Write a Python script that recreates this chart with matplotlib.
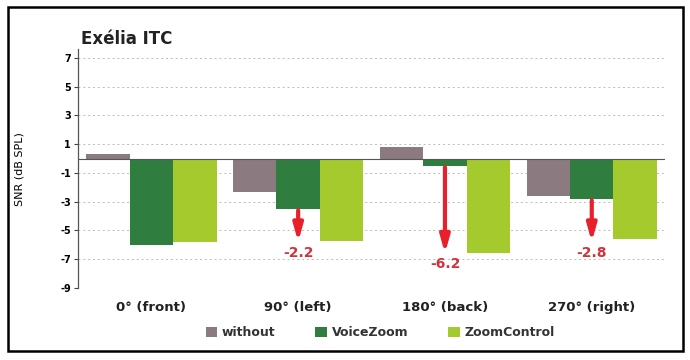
import numpy as np
import matplotlib
matplotlib.use("Agg")
import matplotlib.pyplot as plt
from matplotlib.patches import Rectangle

# ----------------------------------------------------------------------
# Data
# ----------------------------------------------------------------------
CATEGORIES = ["0° (front)", "90° (left)", "180° (back)", "270° (right)"]
SERIES = ["without", "VoiceZoom", "ZoomControl"]
WITHOUT = [0.3, -2.3, 0.8, -2.6]
VOICEZOOM = [-6.0, -3.5, -0.5, -2.8]
ZOOMCONTROL = [-5.8, -5.7, -6.6, -5.6]

# arrows: (category index, start, end, label)
ARROW_IDX = [1, 2, 3]
ARROW_START = [-3.6, -0.6, -2.9]
ARROW_END = [-5.8, -6.6, -5.8]
ARROW_LABELS = ["-2.2", "-6.2", "-2.8"]

YTICKS = [7, 5, 3, 1, -1, -3, -5, -7, -9]

COLORS = ["#8b7b80", "#2f7d3f", "#a5ca2e"]
RED = "#e8202c"


def main() -> None:
    fig = plt.figure(figsize=(6.9, 3.6), dpi=100)
    ax = fig.add_axes([0.113, 0.2, 0.851, 0.663])

    x = np.arange(len(CATEGORIES))
    w = 0.296
    for k, vals in enumerate([WITHOUT, VOICEZOOM, ZOOMCONTROL]):
        ax.bar(x + (k - 1) * w, vals, width=w, color=COLORS[k],
               label=SERIES[k], zorder=3)

    for i, y0, y1, lab in zip(ARROW_IDX, ARROW_START, ARROW_END, ARROW_LABELS):
        ax.annotate("", xy=(x[i], y1), xytext=(x[i], y0),
                    arrowprops=dict(arrowstyle="-|>,head_width=0.28,head_length=1.0",
                                    color=RED, lw=3.0, shrinkA=0, shrinkB=0),
                    zorder=5)
        ax.text(x[i], y1 - 0.25, lab, color="#d2323a", ha="center", va="top",
                fontsize=10, fontweight="bold", zorder=5)

    ax.axhline(0, color="#555555", lw=0.8, zorder=4)
    ax.set_ylim(-9, 7.6)
    ax.set_xlim(-0.5, 3.5)
    ax.set_yticks(YTICKS)
    ax.set_yticklabels([str(v) for v in YTICKS], fontsize=7, fontweight="bold")
    ax.set_xticks(x)
    ax.set_xticklabels(CATEGORIES, fontsize=9.5, fontweight="bold", color="#222222")
    ax.tick_params(axis="x", length=0, pad=9)
    ax.tick_params(axis="y", length=3, pad=2, color="#444444")

    ax.grid(axis="y", color="#bbbbbb", ls=(0, (2, 3)), lw=0.7, zorder=0)
    for sp in ["top", "right", "bottom"]:
        ax.spines[sp].set_visible(False)
    ax.spines["left"].set_color("#555555")
    ax.spines["left"].set_linewidth(0.9)

    ax.set_ylabel("SNR (dB SPL)", fontsize=8, labelpad=26)
    ax.text(0.005, 1.005, "Exélia ITC", transform=ax.transAxes, fontsize=12,
            fontweight="bold", color="#222222", ha="left", va="bottom")

    leg = fig.legend(loc="center", bbox_to_anchor=(0.551, 0.075), ncol=3,
                     frameon=False, fontsize=9, handlelength=0.9,
                     handleheight=0.9, columnspacing=3.2, handletextpad=0.4)
    for t in leg.get_texts():
        t.set_fontweight("bold")
        t.set_color("#333333")

    fig.patches.append(Rectangle((0.012, 0.025), 0.978, 0.955,
                                 transform=fig.transFigure, fill=False,
                                 edgecolor="black", lw=1.8))

    fig.savefig("out.png", dpi=100)
    plt.close(fig)


if __name__ == "__main__":
    main()
